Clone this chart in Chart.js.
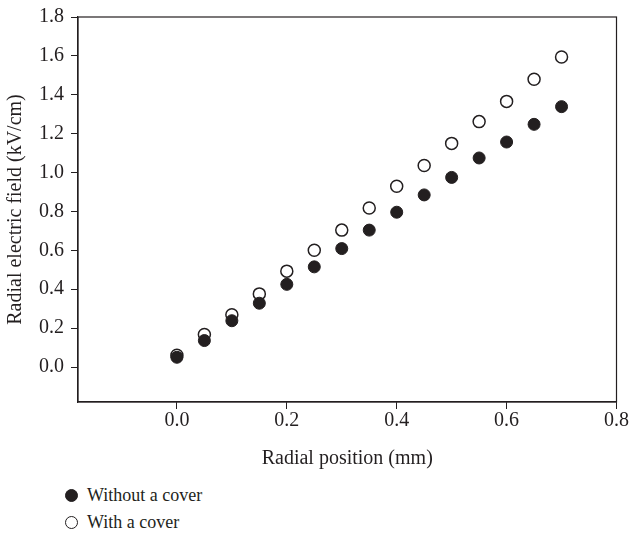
<!DOCTYPE html>
<html>
<head>
<meta charset="utf-8">
<script src="https://cdn.jsdelivr.net/npm/chart.js@4"></script>
<style>
  html, body { margin: 0; padding: 0; background: #fff; }
  #wrap { position: relative; width: 629px; height: 536px; }
  #box { position: absolute; left: 0; top: 0; width: 629px; height: 474px; }
  .legend { position: absolute; left: 65px; font: 18px "Liberation Serif", serif; color: #231f20; line-height: 22px; }
  .legend span.m { display: inline-block; width: 11px; height: 11px; border-radius: 50%;
    border: 1.5px solid #231f20; vertical-align: -1px; margin-right: 9px; }
</style>
</head>
<body>
<div id="wrap">
  <div id="box"><canvas id="c"></canvas></div>
  <div class="legend" style="top:484px"><span class="m" style="background:#231f20"></span>Without a cover</div>
  <div class="legend" style="top:511px"><span class="m" style="background:#fff"></span>With a cover</div>
</div>
<script>
// radial position (mm)
const positions = [0, 0.05, 0.1, 0.15, 0.2, 0.25, 0.3, 0.35, 0.4, 0.45, 0.5, 0.55, 0.6, 0.65, 0.7];
// radial electric field (kV/cm)
const withoutCover = [0.05, 0.136, 0.238, 0.328, 0.425, 0.515, 0.609, 0.704, 0.796, 0.885, 0.975, 1.075, 1.157, 1.248, 1.339];
const withCover = [0.06, 0.167, 0.269, 0.376, 0.493, 0.600, 0.704, 0.818, 0.930, 1.036, 1.150, 1.262, 1.366, 1.480, 1.594];
const xTicks = [0, 0.2, 0.4, 0.6, 0.8];
const yTicks = [0, 0.2, 0.4, 0.6, 0.8, 1.0, 1.2, 1.4, 1.6, 1.8];

const ink = '#231f20';
const font = { family: '"Liberation Serif", serif', size: 20 };

// box round the plot area
const frame = {
  id: 'frame',
  afterDraw(chart) {
    const { ctx, chartArea: a } = chart;
    ctx.save();
    ctx.strokeStyle = ink;
    ctx.lineWidth = 1.2;
    ctx.strokeRect(a.left, a.top, a.right - a.left, a.bottom - a.top);
    ctx.restore();
  }
};

new Chart(document.getElementById('c'), {
  type: 'scatter',
  data: {
    datasets: [
      {
        label: 'Without a cover',
        data: positions.map((x, i) => ({ x, y: withoutCover[i] })),
        pointRadius: 6,
        backgroundColor: ink,
        borderColor: ink,
        borderWidth: 1,
      },
      {
        label: 'With a cover',
        data: positions.map((x, i) => ({ x, y: withCover[i] })),
        pointRadius: 6,
        backgroundColor: '#fff',
        borderColor: ink,
        borderWidth: 1.5,
      },
    ],
  },
  options: {
    responsive: true,
    maintainAspectRatio: false,
    animation: false,
    layout: { padding: { left: 4, right: 11, top: 0, bottom: 0 } },
    plugins: { legend: { display: false }, tooltip: { enabled: false } },
    scales: {
      x: {
        type: 'linear',
        min: -0.18,
        max: 0.8,
        afterBuildTicks: (s) => { s.ticks = xTicks.map((v) => ({ value: v })); },
        ticks: { color: ink, font, padding: 0, callback: (v) => v.toFixed(1) },
        grid: { drawOnChartArea: false, tickLength: 7, color: ink },
        border: { color: ink, width: 1.2 },
        title: { display: true, text: 'Radial position (mm)', color: ink, font, padding: { top: 14, bottom: 3 } },
      },
      y: {
        type: 'linear',
        min: -0.18,
        max: 1.8,
        afterBuildTicks: (s) => { s.ticks = yTicks.map((v) => ({ value: v })); },
        ticks: { color: ink, font: { ...font, lineHeight: 1 }, padding: 7, callback: (v) => v.toFixed(1) },
        grid: { drawOnChartArea: false, tickLength: 7, color: ink },
        border: { color: ink, width: 1.2 },
        title: { display: true, text: 'Radial electric field (kV/cm)', color: ink, font, padding: { top: 0, bottom: 4 } },
      },
    },
  },
  plugins: [frame],
});
</script>
</body>
</html>
